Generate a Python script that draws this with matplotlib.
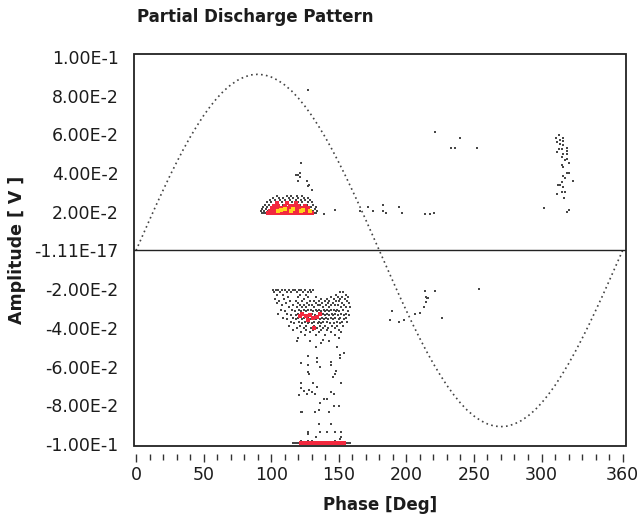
"""
Partial discharge pattern (phase resolved), LabVIEW style.
"""
import matplotlib
matplotlib.use('Agg')
import matplotlib.pyplot as plt
from matplotlib.patches import Rectangle

# Reference supply voltage, sampled every 5 deg
sine_phase = list(range(0, 365, 5))
sine_amp = [0, 0.0079, 0.0158, 0.0236, 0.0311, 0.0385, 0.0455, 0.0522, 0.0585, 0.0643,
            0.0697, 0.0745, 0.0788, 0.0825, 0.0855, 0.0879, 0.0896, 0.0907, 0.0910, 0.0907,
            0.0896, 0.0879, 0.0855, 0.0825, 0.0788, 0.0745, 0.0697, 0.0643, 0.0585, 0.0522,
            0.0455, 0.0385, 0.0311, 0.0236, 0.0158, 0.0079, 0,
            -0.0079, -0.0158, -0.0236, -0.0311, -0.0385, -0.0455, -0.0522, -0.0585, -0.0643,
            -0.0697, -0.0745, -0.0788, -0.0825, -0.0855, -0.0879, -0.0896, -0.0907, -0.0910,
            -0.0907, -0.0896, -0.0879, -0.0855, -0.0825, -0.0788, -0.0745, -0.0697, -0.0643,
            -0.0585, -0.0522, -0.0455, -0.0385, -0.0311, -0.0236, -0.0158, -0.0079, 0]

# Positive half-cycle cluster (low count hits), rows of (amplitude, phases)
pos_rows = [
    (0.0193, [93, 94.5, 96, 97.5, 99, 101, 103, 105.5, 107.5, 110, 112.5, 115, 117, 119.5,
              121.5, 124, 126, 128.5, 130.5, 132, 133.5]),
    (0.0203, [92.5, 95, 98, 100.5, 103.5, 108.5, 113, 118, 122.5, 127, 131, 134]),
    (0.0214, [93.5, 96.5, 99.5, 102, 105, 109.5, 114, 119, 124, 128, 132.5]),
    (0.0226, [94, 97, 101, 104.5, 107, 111, 116, 120.5, 125.5, 129.5, 133]),
    (0.0237, [95.5, 98.5, 102.5, 106, 109, 113.5, 117.5, 121, 126.5, 131]),
    (0.0248, [97, 100, 104, 108, 112, 115.5, 119.5, 123, 127.5, 130]),
    (0.0259, [99, 103, 106.5, 110.5, 114, 118, 122, 125, 129]),
    (0.0271, [101.5, 105.5, 109, 113, 116.5, 120, 124, 127]),
    (0.0283, [104, 111.5, 115, 119, 123]),
]
# Negative half-cycle cluster
neg_rows = [
    (-0.0203, [101, 103.5, 105, 108, 110.5, 113, 116, 117.5, 120.5, 122, 125, 128.5, 131]),
    (-0.0216, [102, 106.5, 111.5, 114.5, 119, 123.5, 127, 129.5, 151, 153]),
    (-0.0229, [104, 109, 121.5, 126, 148, 155.5]),
    (-0.0242, [112.5, 120, 127.5, 133, 144, 149.5, 152.5, 157]),
    (-0.0251, [103, 109.5, 124.5, 136.5, 141, 146.5, 151, 154.5]),
    (-0.0263, [106, 114, 118.5, 122.5, 129, 131.5, 135, 139.5, 143, 148, 150.5, 156]),
    (-0.0272, [104.5, 111, 120, 126.5, 133.5, 137.5, 142, 145.5, 152.5, 157.5]),
    (-0.0284, [108, 116.5, 121.5, 124, 128, 130.5, 134.5, 136, 140.5, 144.5, 147, 149.5, 154]),
    (-0.0293, [113, 119, 123, 126, 132, 138.5, 142.5, 151.5, 155.5, 158.5]),
    (-0.0305, [107.5, 115.5, 120.5, 124.5, 127.5, 129.5, 133, 135.5, 139, 141.5, 144, 146.5,
               149, 153]),
    (-0.0314, [110, 117.5, 122, 125.5, 131, 134, 137, 140, 143, 148, 150.5, 156.5]),
    (-0.0326, [105, 112, 119.5, 123.5, 128.5, 130, 135, 138, 141, 145, 147.5, 152, 155]),
    (-0.0335, [114.5, 118, 121, 126, 132.5, 136.5, 139.5, 142.5, 146, 149.5, 153.5, 157.5]),
    (-0.0347, [108.5, 116, 120, 124, 127.5, 130.5, 134, 137.5, 140.5, 144, 147, 151, 155]),
    (-0.0356, [112, 118.5, 122.5, 126.5, 129, 133, 136, 139, 142, 145.5, 150, 154]),
    (-0.0368, [115, 120.5, 125, 128, 131.5, 135, 138, 141.5, 148.5, 152.5, 156]),
    (-0.0377, [117, 123, 127, 130, 134.5, 137, 143.5, 146.5, 151]),
    (-0.0389, [113.5, 121.5, 125.5, 132, 136, 140, 145, 149, 153]),
    (-0.0398, [119, 124, 129.5, 134, 138.5, 142, 147.5]),
    (-0.0410, [116.5, 126, 131, 137, 141, 150]),
    (-0.0422, [122, 128.5, 135, 144, 152]),
    (-0.0436, [125, 133, 139.5, 147]),
    (-0.0993, [116, 117.5, 119, 120.5, 155, 156.5, 158]),
]

# Isolated hits
single_phase = [122, 121.5, 119.5, 118, 121.5, 120, 126.5, 128, 127, 130, 115, 127, 139, 147,
                165.5, 171.5, 175, 182.5, 182.5, 185, 194.5, 196.5, 214, 217.5, 220.5,
                221, 240, 233, 236, 252.5,
                312.6, 311, 314, 316, 316, 311.7, 314, 316, 319, 312.6, 315.5, 318.5, 311.7,
                316, 319, 315.5, 319, 317.5, 320, 315.5, 316, 318.5, 320, 316, 317.5, 323,
                315.5, 312, 314, 316, 315, 317.5, 311.7, 316.5, 302, 318.5, 320.5,
                120, 138, 150,
                119, 129, 136.5, 142.5, 133, 148.5, 153.5, 151, 127, 134, 151, 134, 144, 122,
                127, 144, 136, 148, 127, 128, 147, 146, 122, 131, 152, 134, 122, 124, 128,
                130, 144, 126.5, 132.5, 146.5, 120.5, 139, 141, 136, 146.5, 150, 135, 122,
                123, 132.5, 143, 135, 144, 127, 136, 141, 147.5, 152, 127, 133.5, 152, 122,
                127, 130, 137.5, 147, 151,
                214, 221.5, 214.8, 215.5, 216, 214.8, 213, 210.4, 206.7, 189.6, 188.1, 194.8,
                198.5, 226.7, 253.4]
single_amp = [0.045, 0.040, 0.039, 0.039, 0.038, 0.036, 0.036, 0.034, 0.0335, 0.031, 0.028,
              0.083, 0.019, 0.021,
              0.0206, 0.0227, 0.0206, 0.0237, 0.0206, 0.0196, 0.0227, 0.0196, 0.0186, 0.0186,
              0.0196,
              0.061, 0.058, 0.053, 0.053, 0.053,
              0.0598, 0.058, 0.057, 0.058, 0.0567, 0.056, 0.055, 0.0545, 0.053, 0.0525,
              0.0525, 0.0515, 0.051, 0.050, 0.050, 0.0485, 0.0475, 0.047, 0.045, 0.044,
              0.0433, 0.040, 0.040, 0.0387, 0.0376, 0.036, 0.0356, 0.034, 0.034, 0.033,
              0.0304, 0.0304, 0.029, 0.0273, 0.0217, 0.020, 0.021,
              -0.045, -0.046, -0.045,
              -0.047, -0.047, -0.048, -0.047, -0.050, -0.050, -0.0527, -0.0538, -0.0546,
              -0.0555, -0.0555, -0.0577, -0.0577, -0.0583, -0.0593, -0.0593, -0.060, -0.0624,
              -0.063, -0.064, -0.064, -0.0656, -0.0684, -0.0684, -0.0684, -0.0705, -0.071,
              -0.0727, -0.072, -0.073, -0.073, -0.074, -0.074, -0.074, -0.0747, -0.0768,
              -0.0768, -0.079, -0.0804, -0.0804, -0.0825, -0.0835, -0.0835, -0.0835, -0.0835,
              -0.0897, -0.0897, -0.0938, -0.0938, -0.0938, -0.0938, -0.0938, -0.0948,
              -0.0964, -0.0964, -0.0984, -0.0984, -0.0984, -0.099, -0.0984, -0.0974,
              -0.0211, -0.0211, -0.0242, -0.0247, -0.0247, -0.0268, -0.0294, -0.0325, -0.033,
              -0.0314, -0.036, -0.0371, -0.036, -0.035, -0.0201]

# Medium count hits (red)
hot_rows = [
    (0.0193, [98, 100, 102, 104, 106, 108, 110, 112, 114, 116, 118, 120, 122, 124, 126, 128,
              130]),
    (0.0206, [99, 101.5, 104, 106.5, 109, 111.5, 114, 116.5, 119, 121.5, 124, 126.5, 129]),
    (0.0219, [100.5, 103, 106, 109, 112.5, 115.5, 118.5, 121, 124.5, 127.5]),
    (0.0232, [102, 105, 110, 114, 117, 120, 125]),
    (0.0245, [104, 112, 118]),
    (-0.0993, [122, 123.5, 125, 126.5, 128, 129.5, 131, 132.5, 134, 135.5, 137, 138.5, 140,
               141.5, 143, 144.5, 146, 147.5, 149, 150.5, 152, 153.5]),
]
hot_neg_phase = [123, 126, 129, 131, 134, 136, 127, 132, 121]
hot_neg_amp = [-0.033, -0.034, -0.0335, -0.035, -0.0345, -0.033, -0.036, -0.040, -0.034]

# Highest count hits (yellow)
peak_phase = [105, 107, 110, 114.5, 116, 122, 123.5, 129]
peak_amp = [0.0205, 0.021, 0.0215, 0.0205, 0.0215, 0.0205, 0.021, 0.0205]

y_ticks = [0.1, 0.08, 0.06, 0.04, 0.02, 0, -0.02, -0.04, -0.06, -0.08, -0.1]
y_labels = ['1.00E-1', '8.00E-2', '6.00E-2', '4.00E-2', '2.00E-2', '-1.11E-17',
            '-2.00E-2', '-4.00E-2', '-6.00E-2', '-8.00E-2', '-1.00E-1']
x_ticks = [0, 50, 100, 150, 200, 250, 300, 360]


def flatten(rows):
    xs, ys = [], []
    for amp, phases in rows:
        xs += phases
        ys += [amp] * len(phases)
    return xs, ys


text_color = '#1c1c1c'
fig = plt.figure(figsize=(6.4, 5.22), dpi=100)
ax = fig.add_axes([134 / 640, 76 / 522, 492 / 640, 392 / 522])

ax.plot(sine_phase, sine_amp, color='#444444', lw=1.2, ls=(0, (1, 2.0)), zorder=2)
ax.axhline(0, color='#222222', lw=1.0, zorder=2)

gx, gy = flatten(pos_rows)
nx, ny = flatten(neg_rows)
ax.scatter(gx + nx + single_phase, gy + ny + single_amp, marker='s', s=3.2,
           color='#474747', linewidths=0, zorder=3)
hx, hy = flatten(hot_rows)
ax.scatter(hx + hot_neg_phase, hy + hot_neg_amp, marker='s', s=6.0,
           color='#f2283e', linewidths=0, zorder=4)
ax.scatter(peak_phase, peak_amp, marker='s', s=6.0,
           color='#ffd21a', linewidths=0, zorder=5)

ax.set_xlim(-1.5, 362.5)
ax.set_ylim(-0.101, 0.1015)

for s in ax.spines.values():
    s.set_visible(False)
ax.spines['bottom'].set_position(('outward', 5.5))
ax.add_patch(Rectangle((0, 0), 1, 1, transform=ax.transAxes, fill=False,
                       ec='#222222', lw=1.3, clip_on=False, zorder=6))

ax.set_yticks(y_ticks)
ax.set_yticklabels(y_labels)
ax.tick_params(axis='y', length=0, pad=11, labelsize=12.5, labelcolor=text_color)
ax.set_xticks(x_ticks)
ax.set_xticks(list(range(0, 361, 10)), minor=True)
ax.tick_params(axis='x', which='major', direction='out', length=6, width=1.0,
               color='#333333', pad=3, labelsize=12.5, labelcolor=text_color)
ax.tick_params(axis='x', which='minor', direction='out', length=4, width=1.0,
               color='#333333')

fig.text(137 / 640, 1 - 17 / 522, 'Partial Discharge Pattern', fontsize=12,
         fontweight='bold', color=text_color, ha='left', va='center')
fig.text(380 / 640, 1 - 505 / 522, 'Phase [Deg]', fontsize=12, fontweight='bold',
         color=text_color, ha='center', va='center')
fig.text(17 / 640, 1 - 250 / 522, 'Amplitude [ V ]', fontsize=12.5, fontweight='bold',
         color=text_color, ha='center', va='center', rotation=90)

fig.savefig('out.png', dpi=100)
